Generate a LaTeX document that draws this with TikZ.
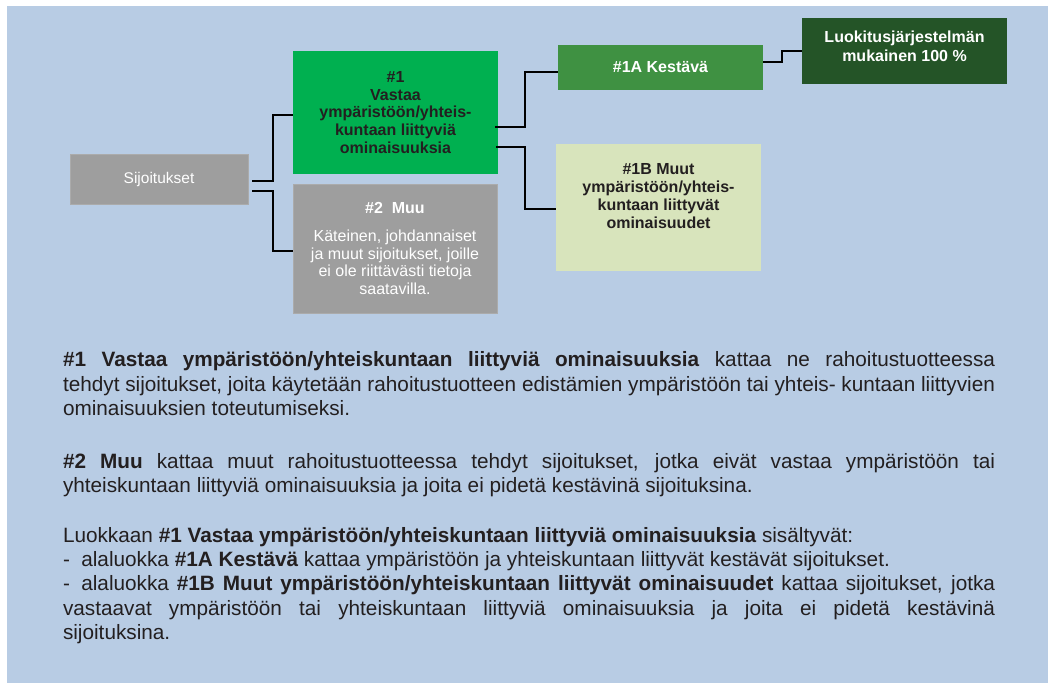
\documentclass[tikz,border=0pt]{standalone}
\usepackage{fontspec}
\setmainfont{Liberation Sans}
\usetikzlibrary{positioning}
\definecolor{bgblue}{HTML}{B8CCE4}
\definecolor{boxgray}{HTML}{9E9E9E}
\definecolor{boxgrayline}{HTML}{ABABAB}
\definecolor{mygreen}{HTML}{00B050}
\definecolor{midgreen}{HTML}{3F9142}
\definecolor{darkgreen}{HTML}{245427}
\definecolor{palegreen}{HTML}{D8E4BC}
\definecolor{ink}{HTML}{231F20}
\tikzset{
  box/.style={inner sep=0pt, outer sep=0pt, align=center,
    font=\fontsize{16}{17.8}\selectfont},
  conn/.style={draw=black, line width=1.7pt},
  body/.style={inner sep=0pt, outer sep=0pt, anchor=base west, text=ink,
    font=\fontsize{20.75}{24.4}\selectfont},
}
\newcommand{\jline}[3]{\node[body] (#1) at (63,#2) {\makebox[932pt][s]{#3}};}
\newcommand{\lline}[3]{\node[body] (#1) at (63,#2) {#3};}
\newcommand{\dashlead}{-\hspace{0.55em}}
\begin{document}
\begin{tikzpicture}[x=1pt,y=-1pt]
\useasboundingbox (0,0) rectangle (1050,684);
\fill[bgblue] (7,6) rectangle (1048,683);

% boxes
\node[box, fill=boxgray, draw=boxgrayline, line width=0.6pt, text=white,
  minimum width=178pt, minimum height=50pt,
  font=\fontsize{15.5}{17.8}\selectfont] (sij) at (159,179) {Sijoitukset};
\node[box, fill=mygreen, text=ink, minimum width=205pt, minimum height=123pt] (g1) at (395.5,112.5)
  {\bfseries \#1\\ \bfseries Vastaa\\ \bfseries ympäristöön/yhteis-\\ \bfseries kuntaan liittyviä\\ \bfseries ominaisuuksia};
\node[box, fill=boxgray, draw=boxgrayline, line width=0.6pt, text=white,
  minimum width=204pt, minimum height=129pt] (muu) at (395,248.5)
  {\bfseries \#2\ \ Muu\\[10pt] Käteinen, johdannaiset\\ ja muut sijoitukset, joille\\ ei ole riittävästi tietoja\\ saatavilla.};
\node[box, fill=midgreen, text=white, minimum width=205pt, minimum height=45pt] (a1) at (660.5,67.5)
  {\bfseries \#1A Kestävä};
\node[box, fill=palegreen, minimum width=205pt, minimum height=127pt] (b1) at (658.5,207.5) {};
\node[box, text=ink] (b1t) at ([yshift=11.5pt]b1.center)
  {\bfseries \#1B Muut\\ \bfseries ympäristöön/yhteis-\\ \bfseries kuntaan liittyvät\\ \bfseries ominaisuudet};
\node[box, fill=darkgreen, minimum width=205pt, minimum height=66pt] (luok) at (904.5,51) {};
\node[box, text=white, font=\fontsize{16}{18.5}\selectfont] (luokt) at ([yshift=4.5pt]luok.center)
  {\bfseries Luokitusjärjestelmän\\ \bfseries mukainen 100 \%};

% connectors
\draw[conn] ([shift={(4pt,-2pt)}]sij.east) -- ++(21pt,0) |- ([yshift=-2.7pt]g1.west);
\draw[conn] ([shift={(4pt,-12pt)}]sij.east) -- ++(21pt,0) |- ([yshift=-2.5pt]muu.west);
\draw[conn] ([shift={(-3pt,-14.5pt)}]g1.east) -- ++(30pt,0) |- ([yshift=-4.5pt]a1.west);
\draw[conn] ([shift={(-2pt,-34.5pt)}]g1.east) -- ++(29pt,0) |- ([yshift=-1.5pt]b1.west);
\draw[conn] ([yshift=5.5pt]a1.east) -- ++(19pt,0) |- (luok.west);

% explanatory text
\jline{p1a}{367}{\textbf{\#1 Vastaa ympäristöön/yhteiskuntaan liittyviä ominaisuuksia} kattaa ne rahoitustuotteessa}
\jline{p1b}{391.4}{tehdyt sijoitukset, joita käytetään rahoitustuotteen edistämien ympäristöön tai yhteis- kuntaan liittyvien}
\lline{p1c}{415.8}{ominaisuuksien toteutumiseksi.}
\jline{p2a}{468.5}{\textbf{\#2 Muu} kattaa muut rahoitustuotteessa tehdyt sijoitukset, jotka eivät vastaa ympäristöön tai}
\lline{p2b}{492.9}{yhteiskuntaan liittyviä ominaisuuksia ja joita ei pidetä kestävinä sijoituksina.}
\lline{p3a}{542}{Luokkaan \textbf{\#1 Vastaa ympäristöön/yhteiskuntaan liittyviä ominaisuuksia} sisältyvät:}
\lline{p3b}{566.4}{\dashlead alaluokka \textbf{\#1A Kestävä} kattaa ympäristöön ja yhteiskuntaan liittyvät kestävät sijoitukset.}
\jline{p3c}{590.8}{\dashlead alaluokka \textbf{\#1B Muut ympäristöön/yhteiskuntaan liittyvät ominaisuudet} kattaa sijoitukset, jotka}
\jline{p3d}{615.2}{vastaavat ympäristöön tai yhteiskuntaan liittyviä ominaisuuksia ja joita ei pidetä kestävinä}
\lline{p3e}{639.6}{sijoituksina.}
\end{tikzpicture}
\end{document}
